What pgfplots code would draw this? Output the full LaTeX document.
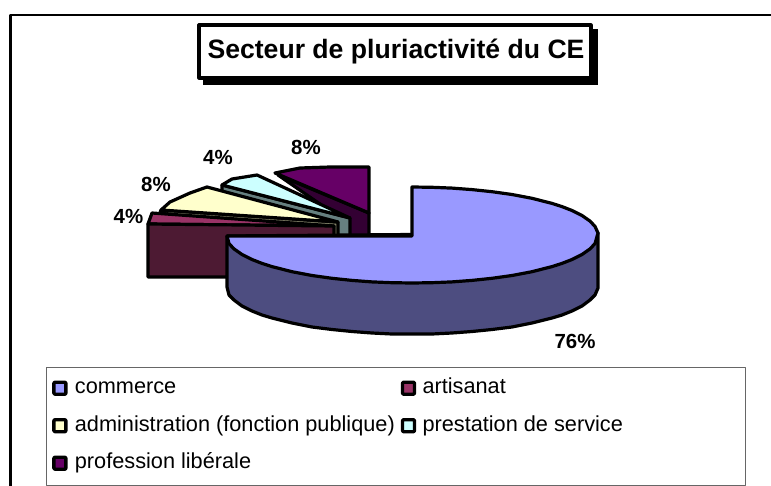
\documentclass[border=0pt]{standalone}
\usepackage{pgfplots}
\usepackage{fontspec}
\setmainfont{Liberation Sans}
\pgfplotsset{compat=1.18}
\definecolor{comT}{HTML}{9999FF}\definecolor{comS}{HTML}{4D4D80}
\definecolor{artT}{HTML}{993366}\definecolor{artS}{HTML}{4D1A33}
\definecolor{admT}{HTML}{FFFFCC}\definecolor{admS}{HTML}{808066}
\definecolor{preT}{HTML}{CCFFFF}\definecolor{preS}{HTML}{668080}
\definecolor{libT}{HTML}{660066}\definecolor{libS}{HTML}{330033}
\begin{document}
\begin{tikzpicture}
\useasboundingbox (0,0) rectangle (771bp,486bp);
\begin{axis}[at={(0,0)},anchor=south west,scale only axis,width=771bp,height=486bp,
  xmin=0,xmax=771,ymin=0,ymax=486,y dir=reverse,hide axis,clip=false,
  legend columns=2,
  legend cell align=left,
  legend style={at={(axis cs:46.5,369)},anchor=north west,draw=none,fill=none,
    font=\fontsize{21.8}{26}\selectfont,inner xsep=5.5bp,inner ysep=6.5bp,
    row sep=12.5bp,
    nodes={inner xsep=2bp,inner ysep=2bp,text depth=5bp,text height=16bp},
    /tikz/column 1/.style={column sep=2bp},
    /tikz/column 2/.style={column sep=4bp},
    /tikz/column 3/.style={column sep=1bp}},
  legend image code/.code={\draw[#1,line width=3.4bp,rounded corners=1bp,draw=black] (0bp,-6bp) rectangle (12bp,6bp);\path[draw=none,fill=none] (0bp,0bp) rectangle (17bp,1bp);}
]
\addlegendimage{fill=comT}\addlegendentry{commerce}
\addlegendimage{fill=artT}\addlegendentry{artisanat}
\addlegendimage{fill=admT}\addlegendentry{administration (fonction publique)}
\addlegendimage{fill=preT}\addlegendentry{prestation de service}
\addlegendimage{fill=libT}\addlegendentry{profession libérale}
\pgfplotsset{every axis plot/.append style={forget plot,line join=round,line width=3.2bp,draw=black}}
% frame
\addplot[line width=2.5bp] coordinates {(10.5,486)(10.5,15)(771,15)};
% legend box
\addplot[line width=0.9bp,draw=black!60] coordinates {(46.5,367)(745,367)(745,485)(46.5,485)} --cycle;
% title box
\addplot[fill=black,line width=0pt] coordinates {(203,30)(597,30)(597,85)(203,85)} --cycle;
\addplot[fill=white] coordinates {(199,25)(591,25)(591,78)(199,78)} --cycle;
% profession liberale
\addplot[fill=libS] coordinates {(278,175)(369,213)(369,236)(343,236)(343,220)} --cycle;
\addplot[fill=libT] coordinates {(275,173)(300,168)(330,167)(369,167)(369,213)} --cycle;
% prestation de service
\addplot[fill=preS] coordinates {(222,185)(350,218)(350,236)(300,236)(222,195)} --cycle;
\addplot[fill=preT] coordinates {(222,185)(232,179)(257,175)(350,218)} --cycle;
% administration
\addplot[fill=admS] coordinates {(161,210)(338,222)(338,236)(320,236)(160,213)} --cycle;
\addplot[fill=admT] coordinates {(161,210)(170,202)(190,193)(207,187)(338,222)} --cycle;
% artisanat
\addplot[fill=artT] coordinates {(152,213)(148,224)(334,226)} --cycle;
\addplot[fill=artS] coordinates {(148,224)(334,226)(334,277)(148,277)} --cycle;
% commerce
\addplot[fill=comS] coordinates {(227,236)(227,287)(229,295)(234,300)(242,306)(252,311)(262,315)(272,318)(292,323)(312,327)(332,329.5)(352,331.5)(372,333)(392,334)(412,334)(432,334)(452,333)(472,331.5)(492,329.5)(512,327)(532,323)(552,318)(562,315)(572,311)(582,306)(590,300)(595,295)(598,288)(598,233)} --cycle;
\addplot[fill=comT] coordinates {(412,187)(432,187.3)(452,188.1)(472,189.6)(492,191.7)(512,194.5)(532,198.3)(552,203.4)(562,206.6)(572,210.5)(582,215.5)(590,221.1)(595,226.4)(598,233)(595,243.6)(590,248.9)(582,254.5)(572,259.5)(562,263.4)(552,266.6)(532,271.7)(512,275.5)(492,278.3)(472,280.4)(452,281.9)(432,282.7)(412,283)(392,282.7)(372,281.9)(352,280.4)(332,278.3)(312,275.5)(292,271.7)(272,266.6)(262,263.4)(252,259.5)(242,254.5)(234,248.9)(229,243.6)(227,236)(412,236)} --cycle;
\node[font=\bfseries\fontsize{26.7}{30}\selectfont] at (axis cs:396,52) {Secteur de pluriactivité du CE};
\node[font=\bfseries\fontsize{20.5}{24}\selectfont] at (axis cs:128.5,216) {4\%};
\node[font=\bfseries\fontsize{20.5}{24}\selectfont] at (axis cs:156,184) {8\%};
\node[font=\bfseries\fontsize{20.5}{24}\selectfont] at (axis cs:218,157) {4\%};
\node[font=\bfseries\fontsize{20.5}{24}\selectfont] at (axis cs:306,147) {8\%};
\node[font=\bfseries\fontsize{20.5}{24}\selectfont] at (axis cs:575,341) {76\%};
\end{axis}
\end{tikzpicture}
\end{document}
